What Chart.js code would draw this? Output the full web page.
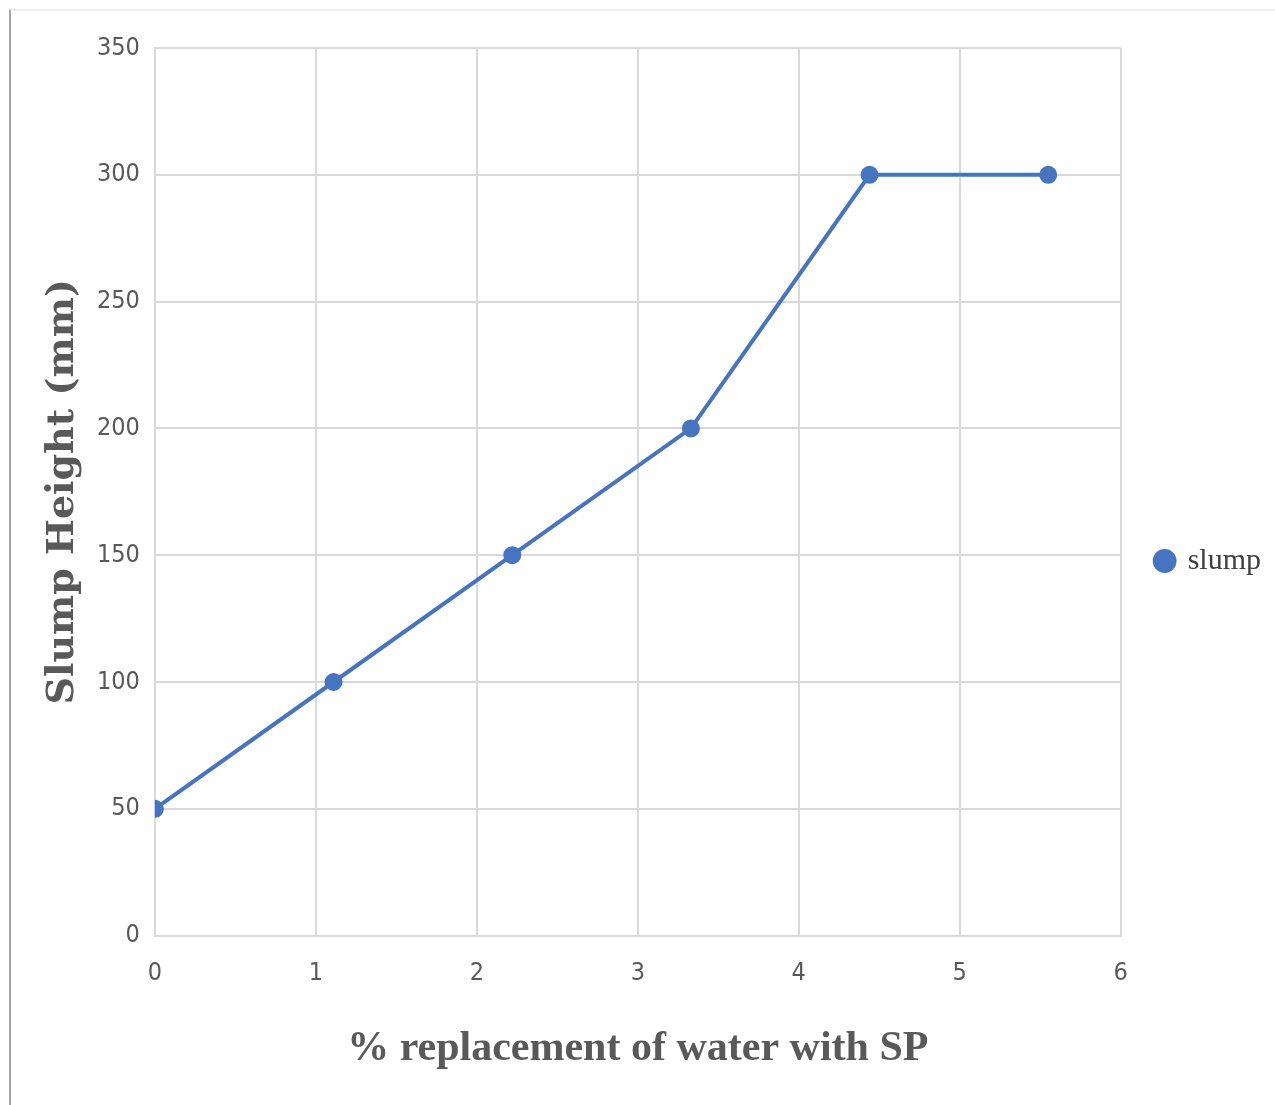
<!DOCTYPE html>
<html>
<head>
<meta charset="utf-8">
<script src="https://cdn.jsdelivr.net/npm/chart.js@4"></script>
<style>
  html, body { margin: 0; padding: 0; background: #fff; }
  #wrap { position: relative; width: 1275px; height: 1105px; }
  #frame { position: absolute; left: 9px; top: 9px; right: 0; bottom: 0;
           border-left: 2px solid #a6a6a6; border-top: 2px solid #ececec; }
  canvas { position: absolute; left: 0; top: 0; }
</style>
</head>
<body>
<div id="wrap">
  <div id="frame"></div>
  <canvas id="chart" width="1275" height="1105"></canvas>
</div>
<script>
// data
const replacement = [0, 1.11, 2.22, 3.33, 4.44, 5.55];
const slump = [50, 100, 150, 200, 300, 300];
const seriesName = 'slump';
const xTitle = '% replacement of water with SP';
const yTitle = 'Slump Height (mm)';

const blue = '#4674c0';
const gridColor = '#d9d9d9';
const tickFont = { family: 'DejaVu Sans Condensed', size: 25 };

const ctx = document.getElementById('chart');
new Chart(ctx, {
    type: 'line',
    data: {
        datasets: [
            {
                label: seriesName,
                data: replacement.map((x, i) => ({ x: x, y: slump[i] })),
                borderColor: blue,
                backgroundColor: blue,
                borderWidth: 4,
                pointRadius: 7,
                pointHoverRadius: 7,
                pointStyle: 'circle',
                tension: 0,
            },
        ],
    },
    options: {
        responsive: false,
        animation: false,
        layout: {
            padding: { top: 48, right: 4, bottom: 31, left: 44 },
        },
        plugins: {
            tooltip: { enabled: false },
            legend: {
                position: 'right',
                labels: {
                    usePointStyle: true,
                    pointStyle: 'circle',
                    boxWidth: 16,
                    boxHeight: 14,
                    padding: 36,
                    color: '#404040',
                    font: { family: 'Liberation Serif', size: 30 },
                },
            },
        },
        scales: {
            x: {
                type: 'linear',
                min: 0,
                max: 6,
                ticks: { stepSize: 1, color: '#595959', font: tickFont, padding: 23 },
                grid: { color: gridColor, lineWidth: 2, drawTicks: false },
                border: { color: gridColor, width: 2 },
                title: {
                    display: true,
                    text: xTitle,
                    color: '#595959',
                    font: { family: 'Liberation Serif', size: 42, weight: 'bold' },
                    padding: { top: 12, bottom: 0 },
                },
            },
            y: {
                min: 0,
                max: 350,
                ticks: { stepSize: 50, color: '#595959', font: tickFont, padding: 15 },
                grid: { color: gridColor, lineWidth: 2, drawTicks: false },
                border: { color: gridColor, width: 2 },
                title: {
                    display: true,
                    text: yTitle,
                    color: '#595959',
                    font: { family: 'DejaVu Serif', size: 38, weight: 'bold', lineHeight: 1 },
                    padding: 0,
                },
            },
        },
    },
});
</script>
</body>
</html>
